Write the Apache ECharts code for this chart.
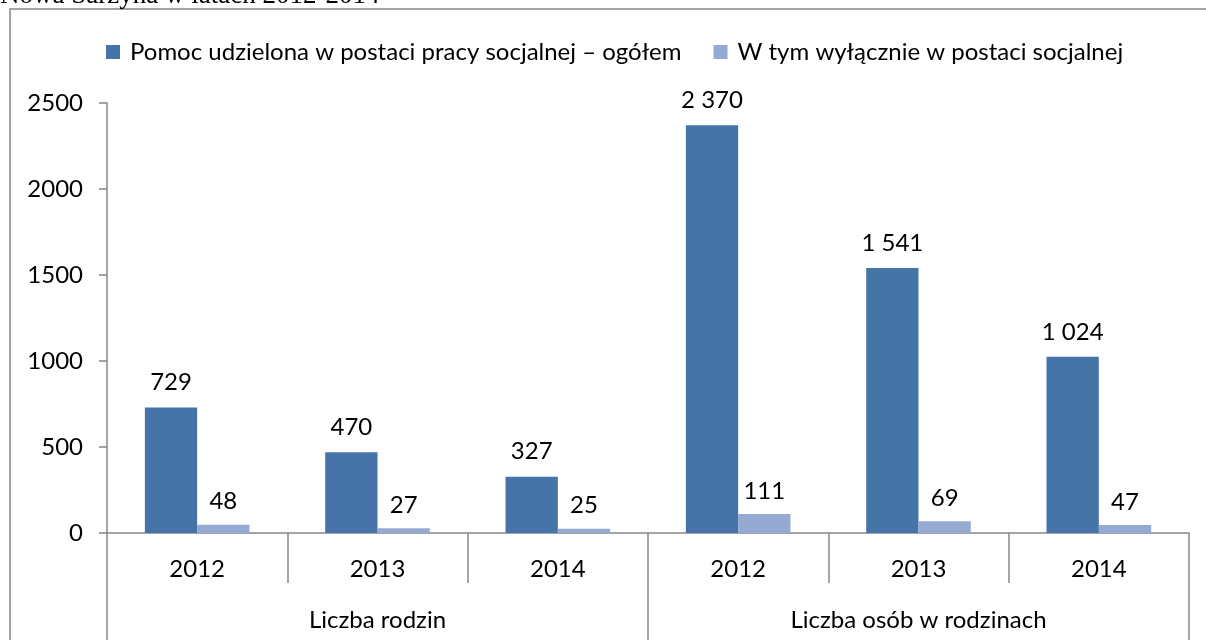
<!DOCTYPE html>
<html>
<head>
<meta charset="utf-8">
<script src="https://cdn.jsdelivr.net/npm/echarts@6/dist/echarts.min.js"></script>
<style>
  html, body { margin: 0; padding: 0; background: #fff; }
  #main { width: 1206px; height: 640px; }
</style>
</head>
<body>
<div id="main"></div>
<script>
  // data
  var years = ['2012', '2013', '2014', '2012', '2013', '2014'];
  var groups = ['Liczba rodzin', 'Liczba osób w rodzinach'];
  var totalValues = [729, 470, 327, 2370, 1541, 1024];
  var exclusiveValues = [48, 27, 25, 111, 69, 47];
  var seriesNames = [
    'Pomoc udzielona w postaci pracy socjalnej – ogółem',
    'W tym wyłącznie w postaci socjalnej'
  ];
  var yTicks = { min: 0, max: 2500, interval: 500 };

  var FONT = 'Lato';
  var FS = 24;
  var GRAY = '#868686';

  // "2370" -> "2 370"
  function spaced(v) {
    return String(v).replace(/\B(?=(\d{3})+(?!\d))/g, ' ');
  }

  var myChart = echarts.init(document.getElementById('main'));

  var option = {
    animation: false,
    textStyle: { fontFamily: FONT },
    graphic: [
      {
        type: 'rect',
        shape: { x: 10, y: 9, width: 1300, height: 700 },
        style: { fill: 'none', stroke: GRAY, lineWidth: 1.5 },
        silent: true
      },
      {
        // page heading, cut off by the top edge
        type: 'text',
        x: 0,
        y: -18,
        style: {
          text: 'Nowa Sarzyna w latach 2012-2014',
          font: '27px "Liberation Serif"',
          fill: '#000'
        },
        silent: true
      }
    ],
    legend: {
      left: 101,
      top: 35,
      itemWidth: 14,
      itemHeight: 14,
      itemGap: 32,
      icon: 'rect',
      textStyle: { fontSize: FS, color: '#000', fontFamily: FONT, padding: [0, 0, 0, 5] },
      data: seriesNames
    },
    grid: {
      left: 107,
      right: 17,
      top: 103,
      bottom: 107,
      containLabel: false
    },
    xAxis: [
      {
        type: 'category',
        data: years,
        axisLine: { show: true, lineStyle: { color: GRAY, width: 1.5 } },
        axisTick: { show: true, interval: 0, length: 50, lineStyle: { color: GRAY, width: 1.5 } },
        axisLabel: { interval: 0, margin: 24, fontSize: FS, color: '#000' }
      },
      {
        type: 'category',
        data: groups,
        position: 'bottom',
        axisLine: { show: false },
        axisTick: { show: true, interval: 0, length: 110, lineStyle: { color: GRAY, width: 1.5 } },
        axisLabel: { interval: 0, margin: 75, fontSize: FS, color: '#000' }
      }
    ],
    yAxis: {
      type: 'value',
      min: yTicks.min,
      max: yTicks.max,
      interval: yTicks.interval,
      splitLine: { show: false },
      axisLine: { show: true, lineStyle: { color: GRAY, width: 1.5 } },
      axisTick: { show: true, length: 8, lineStyle: { color: GRAY, width: 1.5 } },
      axisLabel: {
        margin: 24,
        fontSize: FS,
        color: '#000',
        formatter: function (v) { return String(v); }
      }
    },
    series: [
      {
        name: seriesNames[0],
        type: 'bar',
        xAxisIndex: 0,
        data: totalValues,
        barGap: '0%',
        barCategoryGap: '42%',
        itemStyle: { color: '#4674A8' },
        label: {
          show: true,
          position: 'top',
          distance: 13,
          fontSize: FS,
          color: '#000',
          formatter: function (p) { return spaced(p.value); }
        }
      },
      {
        name: seriesNames[1],
        type: 'bar',
        xAxisIndex: 0,
        data: exclusiveValues,
        barGap: '0%',
        barCategoryGap: '42%',
        itemStyle: { color: '#94AAD2' },
        label: {
          show: true,
          position: 'top',
          distance: 11,
          fontSize: FS,
          color: '#000',
          formatter: function (p) { return spaced(p.value); }
        }
      }
    ]
  };

  myChart.setOption(option);
</script>
</body>
</html>
